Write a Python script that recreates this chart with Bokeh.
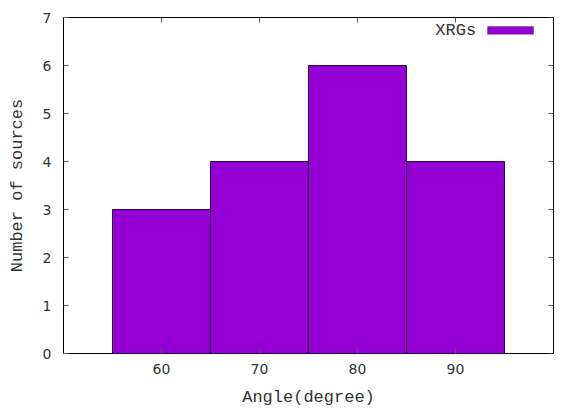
from bokeh.plotting import figure
from bokeh.models import Range1d, FixedTicker, Label, BoxAnnotation
from bokeh.embed import file_html
from bokeh.resources import INLINE

# Data
angle_bins = [60, 70, 80, 90]
num_sources = [3, 4, 6, 4]
x_ticks = [60, 70, 80, 90]
y_ticks = [0, 1, 2, 3, 4, 5, 6, 7]
series_name = "XRGs"

BAR_COLOR = "#9400D3"
MONO = "Liberation Mono"
SANS = "DejaVu Sans"
TEXT_COLOR = "#333333"
TICK_COLOR = "#555555"

X0, X1, Y0, Y1 = 50, 100, 0, 7

p = figure(width=584, height=409, output_backend="svg", toolbar_location=None,
           x_range=Range1d(X0, X1), y_range=Range1d(Y0, Y1),
           min_border_left=63, min_border_right=31, min_border_top=17, min_border_bottom=55)
p.grid.visible = False
p.outline_line_color = "black"
p.outline_line_width = 1
p.background_fill_color = "white"
p.border_fill_color = "white"

p.vbar(x=angle_bins, top=num_sources, width=10, bottom=0,
       fill_color=BAR_COLOR, line_color="#2a0040", line_width=1)

def style_axis(ax):
    ax.axis_line_color = None
    ax.major_tick_in = 5
    ax.major_tick_out = 0
    ax.minor_tick_in = 0
    ax.minor_tick_out = 0
    ax.major_tick_line_color = TICK_COLOR
    ax.major_label_text_font = SANS
    ax.major_label_text_font_size = "14px"
    ax.major_label_text_color = TEXT_COLOR
    ax.axis_label_text_font = MONO
    ax.axis_label_text_font_size = "17px"
    ax.axis_label_text_font_style = "normal"
    ax.axis_label_text_color = TEXT_COLOR

xa = p.xaxis[0]
xa.ticker = FixedTicker(ticks=x_ticks)
xa.axis_label = "Angle(degree)"
style_axis(xa)
xa.major_label_standoff = 10
xa.axis_label_standoff = 11

ya = p.yaxis[0]
ya.ticker = FixedTicker(ticks=y_ticks)
ya.axis_label = "Number of sources"
style_axis(ya)
ya.major_label_standoff = 12
ya.axis_label_standoff = 13

# mirrored ticks on top and right (inward, 5px long)
tick_dy = 5 * (Y1 - Y0) / 337.0
tick_dx = 5 * (X1 - X0) / 490.0
p.segment(x0=x_ticks, y0=[Y1] * len(x_ticks), x1=x_ticks, y1=[Y1 - tick_dy] * len(x_ticks),
          line_color=TICK_COLOR, line_width=1)
p.segment(x0=[X1] * len(y_ticks), y0=y_ticks, x1=[X1 - tick_dx] * len(y_ticks), y1=y_ticks,
          line_color=TICK_COLOR, line_width=1)

# Legend (gnuplot style: text then sample)
p.add_layout(Label(x=92.1, y=6.73, text=series_name, text_align="right", text_baseline="middle",
                   text_font=MONO, text_font_size="17px", text_color=TEXT_COLOR))
p.add_layout(BoxAnnotation(left=93.27, right=97.96, bottom=6.65, top=6.81,
                           fill_color=BAR_COLOR, fill_alpha=1.0, line_color="#2a0040", line_width=1))

open("out.html", "w").write(file_html(p, INLINE))
